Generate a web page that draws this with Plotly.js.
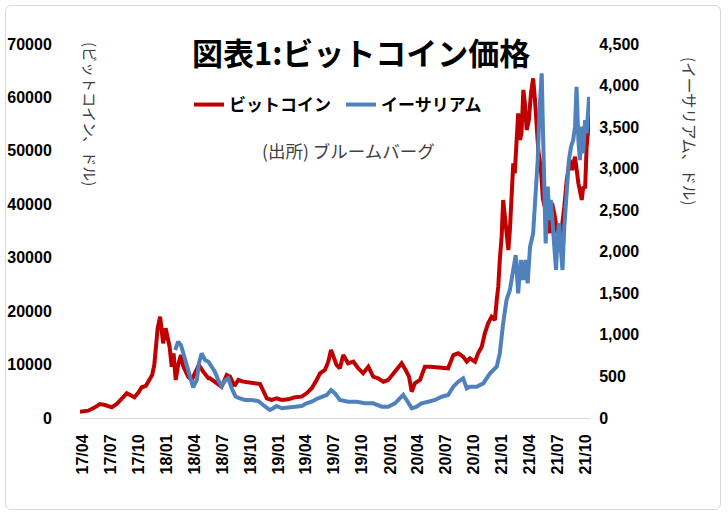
<!DOCTYPE html>
<html>
<head>
<meta charset="utf-8">
<script src="https://cdn.plot.ly/plotly-3.0.1.min.js"></script>
<style>
  html, body { margin: 0; padding: 0; background: #ffffff; }
  #frame { position: absolute; left: 5px; top: 5px; width: 716px; height: 505px;
           border: 1px solid #d9d9d9; border-radius: 6px; box-sizing: border-box; }
  #chart { position: absolute; left: 0; top: 0; width: 728px; height: 517px; }
</style>
</head>
<body>
<div id="frame"></div>
<div id="chart"></div>
<script>
// ---- Data ----
const btcDates = [
  '2017-03-22','2017-04-18','2017-05-10','2017-05-26','2017-06-12','2017-07-04','2017-07-20','2017-08-05',
  '2017-08-22','2017-09-02','2017-09-16','2017-09-29','2017-10-10','2017-10-23','2017-11-03','2017-11-13',
  '2017-11-20','2017-11-25','2017-12-01','2017-12-09','2017-12-14','2017-12-19','2017-12-27','2018-01-03',
  '2018-01-09','2018-01-16','2018-01-22','2018-01-29','2018-02-06','2018-02-15','2018-02-23','2018-03-03',
  '2018-03-11','2018-03-22','2018-04-02','2018-04-15','2018-04-29','2018-05-16','2018-05-21','2018-06-06',
  '2018-06-28','2018-07-15','2018-07-26','2018-08-09','2018-08-22','2018-09-07','2018-09-23','2018-10-15',
  '2018-11-01','2018-11-11','2018-11-23','2018-12-09','2018-12-25','2019-01-11','2019-02-01','2019-02-23',
  '2019-03-17','2019-04-02','2019-04-19','2019-05-05','2019-05-16','2019-06-01','2019-06-12','2019-06-21',
  '2019-06-28','2019-07-09','2019-07-20','2019-07-31','2019-08-16','2019-09-02','2019-09-18','2019-10-04',
  '2019-10-21','2019-11-06','2019-11-22','2019-12-09','2019-12-25','2020-01-11','2020-01-27','2020-02-07',
  '2020-02-20','2020-03-02','2020-03-11','2020-03-21','2020-04-07','2020-04-23','2020-05-10','2020-06-17',
  '2020-07-08','2020-07-25','2020-08-10','2020-08-26','2020-09-07','2020-09-17','2020-10-04','2020-10-14',
  '2020-10-26','2020-11-05','2020-11-16','2020-11-27','2020-12-08','2020-12-14','2020-12-19','2020-12-24',
  '2020-12-30','2021-01-04','2021-01-10','2021-01-15','2021-01-21','2021-01-26','2021-02-01','2021-02-06',
  '2021-02-11','2021-02-17','2021-02-22','2021-02-28','2021-03-05','2021-03-11','2021-03-16','2021-03-22',
  '2021-03-29','2021-04-05','2021-04-12','2021-04-18','2021-04-23','2021-04-29','2021-05-07','2021-05-14',
  '2021-05-25','2021-06-06','2021-06-13','2021-06-22','2021-07-03','2021-07-14','2021-07-23','2021-07-31',
  '2021-08-10','2021-08-18','2021-08-27','2021-09-07','2021-09-18','2021-09-23','2021-09-29','2021-10-04',
  '2021-10-10','2021-10-15'
];
const btcPrice = [
  1150,1370,2000,2620,2430,2000,2620,3690,
  4620,4300,3870,4740,5750,5990,7110,8050,
  9920,13980,16790,18960,15860,13980,16790,15220,
  13350,9600,12110,7110,9920,11790,9600,8670,
  7730,7110,8370,9920,8670,7430,7430,6800,
  5860,8050,7730,5990,7110,6800,6610,6490,
  6360,4920,3690,3370,3690,3370,3500,3870,
  3990,4620,5560,7110,8370,8990,10540,12730,
  11480,9920,9300,11790,10230,10540,9300,8370,
  9600,7730,7430,6800,7110,8370,9600,10230,
  8990,7730,4920,6490,7110,9600,9600,9400,
  9300,11790,12110,11480,10540,11170,10540,12110,
  13350,15860,17730,18960,18350,22090,24580,29580,
  33940,40810,37680,35190,31450,35190,42060,47670,
  45800,52660,57030,52040,53290,61400,58910,53910,
  55780,60770,63570,59530,54530,50000,47000,41000,
  38300,34600,40200,37700,33600,35200,39600,44550,
  48300,46420,48920,43930,40810,43300,43000,50790,
  54530,57660
];

const ethDates = [
  '2018-01-27','2018-02-06','2018-02-15','2018-02-23','2018-03-06','2018-03-17','2018-03-27','2018-04-08',
  '2018-04-15','2018-04-24','2018-05-05','2018-05-16','2018-05-27','2018-06-06','2018-06-17','2018-06-28',
  '2018-07-11','2018-07-20','2018-07-31','2018-08-13','2018-08-27','2018-09-13','2018-10-04','2018-10-26',
  '2018-11-11','2018-12-03','2018-12-14','2018-12-25','2019-01-11','2019-02-01','2019-02-23','2019-03-17',
  '2019-04-02','2019-04-19','2019-05-05','2019-05-21','2019-06-07','2019-06-21','2019-07-04','2019-07-20',
  '2019-08-16','2019-09-13','2019-10-10','2019-11-06','2019-12-04','2019-12-25','2020-01-16','2020-02-01',
  '2020-02-12','2020-02-23','2020-03-11','2020-03-27','2020-04-12','2020-05-04','2020-05-26','2020-06-17',
  '2020-07-08','2020-07-25','2020-08-10','2020-08-26','2020-09-07','2020-09-17','2020-10-09','2020-10-31',
  '2020-11-22','2020-12-14','2020-12-24','2021-01-04','2021-01-15','2021-01-26','2021-02-06','2021-02-14',
  '2021-02-22','2021-03-03','2021-03-11','2021-03-18','2021-03-25','2021-04-02','2021-04-12','2021-04-20',
  '2021-04-27','2021-05-03','2021-05-10','2021-05-14','2021-05-19','2021-05-23','2021-05-30','2021-06-04',
  '2021-06-09','2021-06-15','2021-06-20','2021-06-26','2021-07-01','2021-07-06','2021-07-12','2021-07-17',
  '2021-07-23','2021-07-30','2021-08-07','2021-08-14','2021-08-21','2021-08-27','2021-09-01','2021-09-07',
  '2021-09-12','2021-09-18','2021-09-23','2021-09-29','2021-10-04','2021-10-12'
];
const ethPrice = [
  818,918,878,778,617,478,369,457,
  658,778,698,677,617,557,457,385,
  457,478,357,256,237,217,217,204,
  156,96,117,144,117,124,136,144,
  177,196,229,256,277,337,296,217,
  196,196,177,177,136,136,177,237,
  277,217,117,136,177,196,217,256,
  277,377,437,478,357,377,377,417,
  538,617,778,1139,1420,1540,1820,1961,
  1500,1901,1660,1901,1620,2061,2222,2623,
  3104,3705,4147,3505,2703,2101,2783,2382,
  2623,2262,2061,1781,2181,2342,2021,1781,
  2302,2623,3104,3264,3345,3505,3986,3345,
  3104,3505,3184,3585,3425,3865
];

const seriesNames = ['ビットコイン', 'イーサリアム'];
const chartTitle = '図表1:ビットコイン価格';
const sourceNote = '(出所) ブルームバーグ';
const leftTitle = '(ビットコイン、ドル)';
const rightTitle = '(イーサリアム、ドル)';

const tickFont = { family: 'Liberation Sans, Arial, sans-serif', size: 16, color: '#000000', weight: 700 };
const jp = 'Noto Sans CJK JP, Noto Sans, sans-serif';

const traces = [
  { x: btcDates, y: btcPrice, name: seriesNames[0], type: 'scatter', mode: 'lines',
    line: { color: '#C00000', width: 4 }, yaxis: 'y' },
  { x: ethDates, y: ethPrice, name: seriesNames[1], type: 'scatter', mode: 'lines',
    line: { color: '#4F81BD', width: 4 }, yaxis: 'y2' }
];

const layout = {
  width: 728, height: 517,
  margin: { l: 80, r: 138, t: 44, b: 99, autoexpand: false },
  paper_bgcolor: 'rgba(0,0,0,0)', plot_bgcolor: 'rgba(0,0,0,0)',
  showlegend: true,
  legend: { orientation: 'h', x: (189-80)/510, y: (418-87)/374,
            xanchor: 'left', yanchor: 'top', entrywidth: 107, entrywidthmode: 'pixels',
            font: { family: jp, size: 17, color: '#000000', weight: 700 }, bgcolor: 'rgba(0,0,0,0)' },
  xaxis: {
    type: 'date', range: ['2017-03-22', '2021-10-15'],
    tick0: '2017-04-01', dtick: 'M3', tickformat: '%y/%m', tickangle: -90,
    ticks: 'outside', ticklen: 9, tickcolor: 'rgba(0,0,0,0)',
    showgrid: false, zeroline: false, showline: true, linecolor: '#d9d9d9', linewidth: 1,
    tickfont: tickFont, automargin: false
  },
  yaxis: {
    range: [0, 70000], dtick: 10000, tickformat: 'd',
    ticks: 'outside', ticklen: 24, tickcolor: 'rgba(0,0,0,0)',
    showgrid: false, zeroline: false, showline: false, tickfont: tickFont, automargin: false
  },
  yaxis2: {
    range: [0, 4500], dtick: 500, tickformat: ',d', overlaying: 'y', side: 'right',
    ticks: 'outside', ticklen: 5, tickcolor: 'rgba(0,0,0,0)',
    showgrid: false, zeroline: false, showline: false, tickfont: tickFont, automargin: false
  },
  annotations: [
    { text: chartTitle, xref: 'paper', yref: 'paper', x: (361-80)/510, y: (418-52)/374, xanchor: 'center', yanchor: 'middle',
      showarrow: false, font: { family: jp, size: 31, color: '#000000', weight: 700 } },
    { text: sourceNote, xref: 'paper', yref: 'paper', x: (348-80)/510, y: (418-150)/374, xanchor: 'center', yanchor: 'middle',
      showarrow: false, font: { family: jp, size: 17.5, color: '#404040' } },
    { text: leftTitle, xref: 'paper', yref: 'paper', x: (90-80)/510, y: (418-114)/374, xanchor: 'center', yanchor: 'middle',
      textangle: 90, showarrow: false, font: { family: jp, size: 15, color: '#404040' } },
    { text: rightTitle, xref: 'paper', yref: 'paper', x: (690-80)/510, y: (418-131)/374, xanchor: 'center', yanchor: 'middle',
      textangle: 90, showarrow: false, font: { family: jp, size: 15.5, color: '#404040' } }
  ]
};

Plotly.newPlot('chart', traces, layout, { displayModeBar: false, staticPlot: true });
</script>
</body>
</html>
